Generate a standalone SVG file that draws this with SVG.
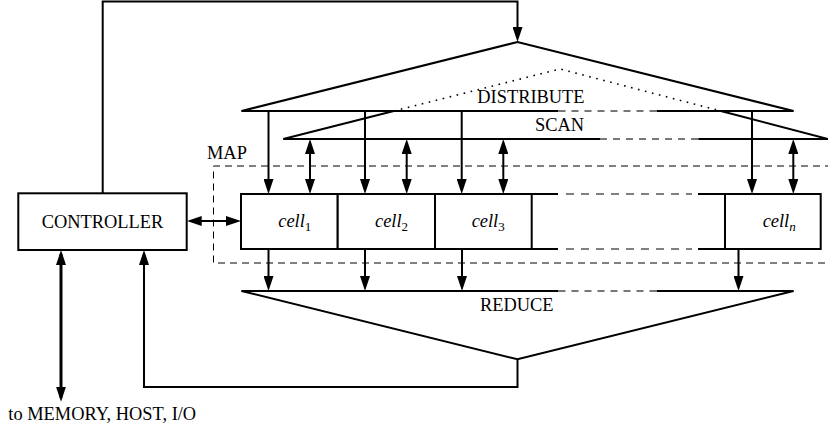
<svg xmlns="http://www.w3.org/2000/svg" width="828" height="431" viewBox="0 0 828 431">
<defs>
<style>
.ln{fill:none;stroke:#000;stroke-width:2}
.gd{fill:none;stroke:#777;stroke-width:2;stroke-dasharray:7 6}
.cd{fill:none;stroke:#000;stroke-width:1;stroke-dasharray:8 7}
.md{fill:none;stroke:#000;stroke-width:1;stroke-dasharray:7 5}
.dot{fill:none;stroke:#000;stroke-width:1.6;stroke-dasharray:1.6 5.6}
.box{fill:#fff;stroke:#000;stroke-width:2}
.t{font-family:"Liberation Serif","Times New Roman",serif;font-size:18.4px;fill:#000}
.it{font-style:italic}
.sub{font-size:13px}
.arr{fill:none;stroke:#000;stroke-width:2;marker-end:url(#ah)}
.arr2{fill:none;stroke:#000;stroke-width:2;marker-start:url(#ah);marker-end:url(#ah)}
</style>
<marker id="ah" viewBox="0 0 15 10" markerWidth="15" markerHeight="10" refX="11" refY="5" orient="auto-start-reverse" markerUnits="userSpaceOnUse"><path d="M0,0L15,5L0,10z" fill="#000"/></marker>
</defs>

<g id="map">
<path class="md" d="M832,166H213.5V263H832"/>
<text class="t" x="207" y="159">MAP</text>
</g>

<g id="distribute">
<path class="ln" d="M241.5,111L517.5,42L793.5,111"/>
<path class="ln" d="M241.5,111H558.5M656.5,111H793.5"/>
<path class="gd" d="M558.5,111H656.5"/>
<text class="t" x="477.3" y="103.3">DISTRIBUTE</text>
</g>

<g id="scan">
<path class="ln" d="M283.3,139L393.8,111M720.8,111L828,139"/>
<path class="dot" d="M393.8,111L560,69L720.8,111"/>
<path class="ln" d="M283.3,139H600M698.3,139H830"/>
<path class="gd" d="M600,139H698.3"/>
<text class="t" x="535" y="130.7">SCAN</text>
</g>

<g id="reduce">
<path class="ln" d="M241.5,291L517.5,359.3L793.5,291"/>
<path class="ln" d="M241.5,291H558.5M656.5,291H793.5"/>
<path class="gd" d="M558.5,291H656.5"/>
<text class="t" x="480" y="310.5">REDUCE</text>
</g>

<g id="cells">
<path class="ln" d="M531.7,194H558M531.7,249H558M698,194H725M698,249H725"/>
<path class="cd" d="M566,194H692M566,249H692"/>
<g id="cell1"><rect class="box" x="241" y="194" width="96.7" height="55"/><text class="t" x="278.3" y="227"><tspan class="it">cell</tspan><tspan class="sub" dy="4">1</tspan></text></g>
<g id="cell2"><rect class="box" x="337.7" y="194" width="97.3" height="55"/><text class="t" x="375" y="227"><tspan class="it">cell</tspan><tspan class="sub" dy="4">2</tspan></text></g>
<g id="cell3"><rect class="box" x="435" y="194" width="96.7" height="55"/><text class="t" x="471.7" y="227"><tspan class="it">cell</tspan><tspan class="sub" dy="4">3</tspan></text></g>
<g id="celln"><rect class="box" x="725" y="194" width="95.7" height="55"/><text class="t" x="762.7" y="227"><tspan class="it">cell</tspan><tspan class="sub it" dy="4">n</tspan></text></g>
</g>

<g id="controller">
<rect class="box" x="18.3" y="193.3" width="168.4" height="56.7"/>
<text class="t" x="102.5" y="227.7" text-anchor="middle">CONTROLLER</text>
</g>

<g id="io-label">
<text class="t" x="8.3" y="420">to MEMORY, HOST, I/O</text>
</g>

<g id="connectors">
<path class="arr" d="M102.7,193.3V1.5H517.5V38"/>
<path class="arr" d="M268.5,111V190"/>
<path class="arr" d="M365,111V190"/>
<path class="arr" d="M461.7,111V190"/>
<path class="arr" d="M752,111V190"/>
<path class="arr2" d="M310,143V190"/>
<path class="arr2" d="M406.7,143V190"/>
<path class="arr2" d="M503.3,143V190"/>
<path class="arr2" d="M793.3,143V190"/>
<path class="arr" d="M268.5,249V287"/>
<path class="arr" d="M365,249V287"/>
<path class="arr" d="M462,249V287"/>
<path class="arr" d="M738.5,249V287"/>
<path class="arr2" d="M190.7,221H237"/>
<path class="arr" d="M517.5,359.3V387H144V254"/>
<path class="arr2" style="stroke-width:3" d="M61,254V397.7"/>
</g>
</svg>
